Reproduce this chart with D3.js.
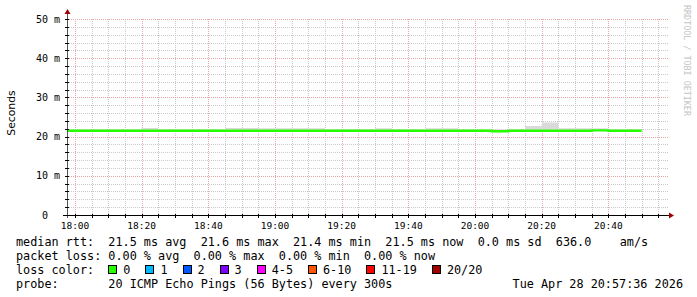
<!DOCTYPE html>
<html>
<head>
<meta charset="UTF-8">
<title>smokeping</title>
<script src="https://cdn.jsdelivr.net/npm/d3@7"></script>
<style>
  body { margin: 0; background: #fff; }
  text { font-family: "DejaVu Sans Mono", monospace; white-space: pre; }
</style>
</head>
<body>
<svg id="chart" width="697" height="297"></svg>
<script>
// 数据: 每 5 分钟一个步长, 从 17:55 开始
var stepStart = new Date(2026, 3, 28, 17, 55, 0);
var stepMinutes = 5;
var median = [21.5, 21.5, 21.5, 21.5, 21.5, 21.5, 21.5, 21.5, 21.5, 21.5,
              21.5, 21.5, 21.5, 21.5, 21.5, 21.5, 21.5, 21.5, 21.5, 21.5,
              21.5, 21.5, 21.5, 21.5, 21.5, 21.5, 21.36, 21.5, 21.5, 21.5,
              21.5, 21.5, 21.6, 21.5, 21.5];
var smokeLo = [21.35, 21.35, 21.35, 21.35, 21.35, 21.35, 21.35, 21.35, 21.35, 21.35,
               21.35, 21.35, 21.35, 21.35, 21.35, 21.35, 21.35, 21.35, 21.35, 21.35,
               21.35, 21.35, 21.35, 21.35, 21.35, 21.35, 21.25, 21.35, 21.35, 21.35,
               21.35, 21.35, 21.4, 21.35, 21.35];
var smokeHi = [21.8, 21.8, 21.8, 21.8, 21.8, 22.2, 21.8, 21.8, 21.8, 21.8,
               22.2, 22.2, 22.1, 22.1, 22.1, 22.1, 21.8, 21.8, 21.8, 22.1,
               21.8, 21.8, 22.1, 22.1, 21.8, 21.8, 21.8, 21.8, 22.7, 23.6,
               22.1, 22.1, 22.1, 21.8, 21.8];
var yTicks = [0, 10, 20, 30, 40, 50];
var yTickLabels = [" 0", "10 m", "20 m", "30 m", "40 m", "50 m"];
var lossLabels = ["0", "1", "2", "3", "4-5", "6-10", "11-19", "20/20"];
var lossColors = ["#26ff00", "#00b8ff", "#0059ff", "#7e00ff", "#ff00ff", "#ff5500", "#ff0000", "#a00000"];
var legendLines = [
  "median rtt:  21.5 ms avg  21.6 ms max  21.4 ms min  21.5 ms now  0.0 ms sd  636.0    am/s",
  "packet loss: 0.00 % avg  0.00 % max  0.00 % min  0.00 % now",
  "loss color:",
  "probe:       20 ICMP Echo Pings (56 Bytes) every 300s"
];
var stampText = "Tue Apr 28 20:57:36 2026";

var svg = d3.select("#chart");
var plotL = 67, plotR = 667, plotT = 19, plotB = 215;

var x = d3.scaleTime()
  .domain([new Date(2026, 3, 28, 17, 57, 36), new Date(2026, 3, 28, 20, 57, 36)])
  .range([plotL, plotR]);
var y = d3.scaleLinear().domain([0, 50]).range([plotB, plotT]);

// 网格
var grid = svg.append("g").attr("shape-rendering", "crispEdges");
var minorX = x.ticks(d3.timeMinute.every(5));
var majorX = x.ticks(d3.timeMinute.every(20));
grid.selectAll("line.mx").data(minorX).enter().append("line")
  .attr("x1", function(d) { return Math.round(x(d)) + 0.5; })
  .attr("x2", function(d) { return Math.round(x(d)) + 0.5; })
  .attr("y1", plotT).attr("y2", plotB)
  .attr("stroke", "#cacaca").attr("stroke-dasharray", "1,1");
grid.selectAll("line.my").data(d3.range(0, 51, 2)).enter().append("line")
  .attr("x1", plotL).attr("x2", plotR + 1)
  .attr("y1", function(d) { return Math.round(y(d)) + 0.5; })
  .attr("y2", function(d) { return Math.round(y(d)) + 0.5; })
  .attr("stroke", "#cacaca").attr("stroke-dasharray", "1,1");
grid.selectAll("line.Mx").data(majorX).enter().append("line")
  .attr("x1", function(d) { return Math.round(x(d)) + 0.5; })
  .attr("x2", function(d) { return Math.round(x(d)) + 0.5; })
  .attr("y1", plotT).attr("y2", plotB)
  .attr("stroke", "#eaa6a6").attr("stroke-dasharray", "1,1");
grid.selectAll("line.My").data(yTicks).enter().append("line")
  .attr("x1", plotL).attr("x2", plotR + 1)
  .attr("y1", function(d) { return Math.round(y(d)) + 0.5; })
  .attr("y2", function(d) { return Math.round(y(d)) + 0.5; })
  .attr("stroke", "#eaa6a6").attr("stroke-dasharray", "1,1");

// 数据点
var pts = median.map(function(v, i) {
  return { t: d3.timeMinute.offset(stepStart, i * stepMinutes), m: v, lo: smokeLo[i], hi: smokeHi[i] };
});
var last = pts[pts.length - 1];
pts.push({ t: d3.timeMinute.offset(stepStart, pts.length * stepMinutes), m: last.m, lo: last.lo, hi: last.hi });

svg.append("clipPath").attr("id", "plot")
  .append("rect").attr("x", plotL + 1).attr("y", plotT).attr("width", plotR - plotL).attr("height", plotB - plotT);

var plot = svg.append("g").attr("clip-path", "url(#plot)");

// 烟雾
plot.append("path").datum(pts)
  .attr("fill", "#dadada")
  .attr("d", d3.area().curve(d3.curveStepAfter)
    .x(function(d) { return x(d.t); })
    .y0(function(d) { return y(d.lo); })
    .y1(function(d) { return y(d.hi); }));

// 中位线
plot.append("path").datum(pts)
  .attr("fill", "none").attr("stroke", lossColors[0]).attr("stroke-width", 2.4)
  .attr("d", d3.line().curve(d3.curveStepAfter)
    .x(function(d) { return x(d.t); })
    .y(function(d) { return y(d.m); }));

// 坐标轴
var ax = svg.append("g").attr("shape-rendering", "crispEdges");
ax.append("line").attr("x1", plotL - 4).attr("x2", plotR + 2).attr("y1", plotB + 0.5).attr("y2", plotB + 0.5).attr("stroke", "#000");
ax.append("line").attr("x1", plotL + 0.5).attr("x2", plotL + 0.5).attr("y1", plotB + 3).attr("y2", plotT - 6).attr("stroke", "#555");
ax.selectAll("line.tx").data(minorX).enter().append("line")
  .attr("x1", function(d) { return Math.round(x(d)) + 0.5; })
  .attr("x2", function(d) { return Math.round(x(d)) + 0.5; })
  .attr("y1", plotB - 1).attr("y2", plotB + 3)
  .attr("stroke", "#000");
ax.selectAll("line.ty").data(d3.range(0, 51, 2)).enter().append("line")
  .attr("y1", function(d) { return Math.round(y(d)) + 0.5; })
  .attr("y2", function(d) { return Math.round(y(d)) + 0.5; })
  .attr("x1", plotL - 2).attr("x2", plotL + 2)
  .attr("stroke", "#000");
svg.append("path").attr("fill", "#a00000")
  .attr("d", "M" + (plotL + 0.5) + "," + (plotT - 10) + "l-3,5h6z");
svg.append("path").attr("fill", "#a00000")
  .attr("d", "M" + (plotR + 7) + "," + (plotB + 0.5) + "l-5,-3v6z");

// 刻度文字
svg.selectAll("text.xl").data(majorX).enter().append("text")
  .attr("x", function(d) { return x(d); }).attr("y", plotB + 14)
  .attr("text-anchor", "middle").attr("font-size", "9.5px").attr("fill", "#000")
  .text(d3.timeFormat("%H:%M"));
svg.selectAll("text.yl").data(yTicks).enter().append("text")
  .attr("x", 36).attr("y", function(d) { return y(d) + 3.5; })
  .attr("font-size", "10px").attr("fill", "#000")
  .text(function(d, i) { return yTickLabels[i]; });

svg.append("text")
  .attr("transform", "translate(15,113) rotate(-90)")
  .attr("text-anchor", "middle")
  .style("font-family", "'DejaVu Sans', sans-serif").attr("font-size", "10.8px")
  .text("Seconds");

svg.append("text")
  .attr("transform", "translate(684,5) rotate(90)")
  .attr("font-size", "8.4px").attr("fill", "#c4c4c4")
  .text("RRDTOOL / TOBI OETIKER");

// 图例
var cw = 7.1, lx = 16;
svg.selectAll("text.lg").data(legendLines).enter().append("text")
  .attr("x", lx).attr("y", function(d, i) { return 245.5 + i * 14; })
  .attr("font-size", "11.8px").attr("fill", "#000")
  .text(function(d) { return d; });
svg.append("text").attr("x", 683).attr("y", 245.5 + 3 * 14)
  .attr("text-anchor", "end").attr("font-size", "11.8px").attr("fill", "#000")
  .text(stampText);

var pos = lx + 13 * cw;
var items = lossLabels.map(function(l, i) {
  var it = { label: l, color: lossColors[i], x: pos };
  pos += 30 + cw * l.length;
  return it;
});
var lg = svg.selectAll("g.li").data(items).enter().append("g");
lg.append("rect")
  .attr("x", function(d) { return Math.round(d.x) + 0.5; }).attr("y", 265.5)
  .attr("width", 8).attr("height", 8)
  .attr("fill", function(d) { return d.color; }).attr("stroke", "#000")
  .attr("shape-rendering", "crispEdges");
lg.append("text")
  .attr("x", function(d) { return d.x + 15; }).attr("y", 245.5 + 2 * 14)
  .attr("font-size", "11.8px").attr("fill", "#000")
  .text(function(d) { return d.label; });
</script>
</body>
</html>
